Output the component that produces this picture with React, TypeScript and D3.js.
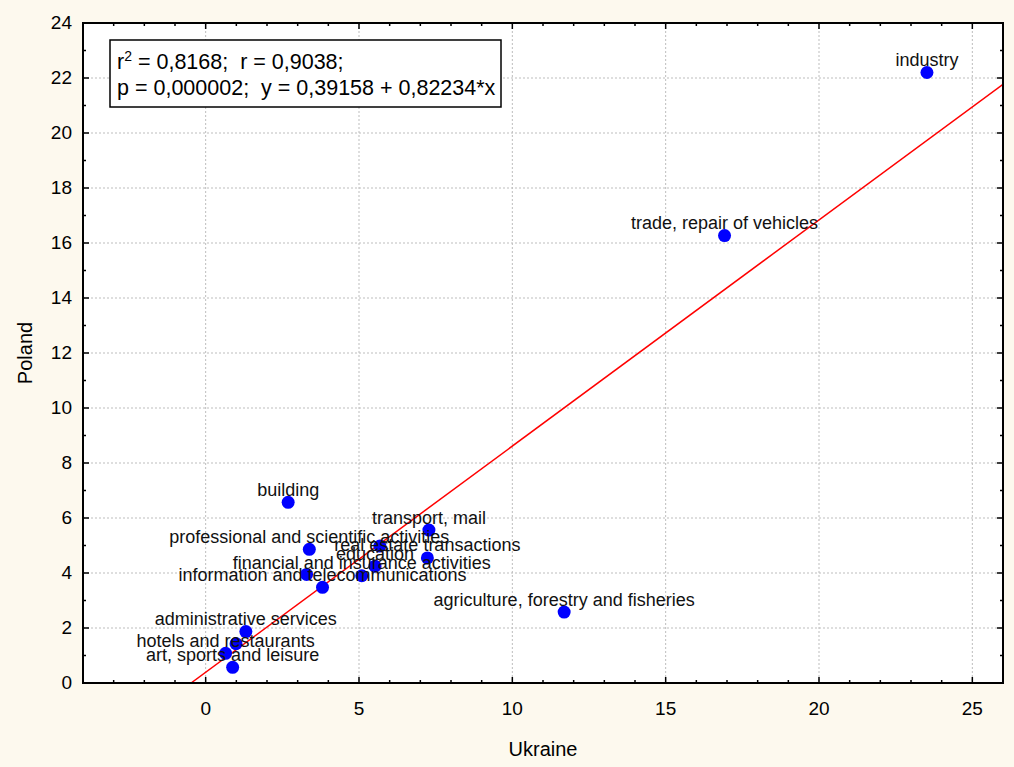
import React from "react";
import * as d3 from "d3";

const categories: string[] = [
  "industry",
  "trade, repair of vehicles",
  "building",
  "transport, mail",
  "professional and scientific activities",
  "",
  "real estate transactions",
  "education",
  "financial and insurance activities",
  "",
  "information and telecommunications",
  "agriculture, forestry and fisheries",
  "administrative services",
  "",
  "hotels and restaurants",
  "art, sports and leisure",
];
const ukraine: number[] = [23.52, 16.92, 2.69, 7.28, 3.38, 5.68, 7.23, 5.52, 5.09, 3.29, 3.81, 11.69, 1.31, 0.99, 0.65, 0.88];
const poland: number[] = [22.2, 16.27, 6.57, 5.56, 4.86, 4.98, 4.55, 4.25, 3.9, 3.95, 3.48, 2.58, 1.87, 1.43, 1.08, 0.57];

const xTicks: number[] = [0, 5, 10, 15, 20, 25];
const yTicks: number[] = [0, 2, 4, 6, 8, 10, 12, 14, 16, 18, 20, 22, 24];
const xDomain: [number, number] = [-4, 26];
const yDomain: [number, number] = [0, 24];
const intercept = 0.39158;
const slope = 0.82234;
const statsLine1a = "r";
const statsLine1b = " = 0,8168;  r = 0,9038;";
const statsLine2 = "p = 0,000002;  y = 0,39158 + 0,82234*x";

const W = 1014;
const H = 767;
const L = 83, R = 1003, T = 23, B = 683;
const FONT = "'Liberation Sans', Arial, sans-serif";

export default function App() {
  const x = d3.scaleLinear().domain(xDomain).range([L, R]);
  const y = d3.scaleLinear().domain(yDomain).range([B, T]);

  const xMinor = d3.range(xDomain[0], xDomain[1] + 0.001, 1);
  const yMinor = d3.range(yDomain[0], yDomain[1] + 0.001, 1);

  const x0 = -intercept / slope;
  const x1 = xDomain[1];
  const line = d3.line<[number, number]>().x((d) => x(d[0])).y((d) => y(d[1]));
  const regPath = line([
    [x0, intercept + slope * x0],
    [x1, intercept + slope * x1],
  ]) as string;

  return (
    <svg
      width={W}
      height={H}
      style={{ position: "absolute", left: 0, top: 0 }}
      fontFamily={FONT}
    >
      <defs>
        <clipPath id="plotclip">
          <rect x={L} y={T} width={R - L} height={B - T} />
        </clipPath>
      </defs>
      <rect x={0} y={0} width={W} height={H} fill="#fdf9ee" />
      <rect x={L} y={T} width={R - L} height={B - T} fill="#ffffff" />

      {/* grid */}
      {xTicks.map((t) => (
        <line key={"gx" + t} x1={x(t)} x2={x(t)} y1={T} y2={B} stroke="#bdbdbd" strokeDasharray="2,2" strokeWidth={1} />
      ))}
      {yTicks.map((t) => (
        <line key={"gy" + t} x1={L} x2={R} y1={y(t)} y2={y(t)} stroke="#bdbdbd" strokeDasharray="2,2" strokeWidth={1} />
      ))}

      {/* ticks */}
      {xMinor.map((t) => {
        const major = xTicks.includes(t);
        const len = major ? 6 : 3;
        return (
          <g key={"tx" + t}>
            <line x1={x(t)} x2={x(t)} y1={B} y2={B - len} stroke="#000" strokeWidth={1.5} />
            <line x1={x(t)} x2={x(t)} y1={T} y2={T + len} stroke="#000" strokeWidth={1.5} />
          </g>
        );
      })}
      {yMinor.map((t) => {
        const major = yTicks.includes(t);
        const len = major ? 6 : 3;
        return (
          <g key={"ty" + t}>
            <line x1={L} x2={L + len} y1={y(t)} y2={y(t)} stroke="#000" strokeWidth={1.5} />
            <line x1={R} x2={R - len} y1={y(t)} y2={y(t)} stroke="#000" strokeWidth={1.5} />
          </g>
        );
      })}

      {/* regression line */}
      <path d={regPath} stroke="#ff0000" strokeWidth={1.5} fill="none" clipPath="url(#plotclip)" />

      {/* points */}
      {ukraine.map((u, i) => (
        <circle key={"p" + i} cx={x(u)} cy={y(poland[i])} r={6.5} fill="#0000ff" />
      ))}
      {/* labels */}
      {ukraine.map((u, i) =>
        categories[i] ? (
          <text key={"l" + i} x={x(u)} y={y(poland[i]) - 6.5} textAnchor="middle" fontSize={18} fill="#111">
            {categories[i]}
          </text>
        ) : null
      )}

      {/* frame */}
      <rect x={L} y={T} width={R - L} height={B - T} fill="none" stroke="#000" strokeWidth={2} />

      {/* tick labels */}
      {xTicks.map((t) => (
        <text key={"xl" + t} x={x(t)} y={715} textAnchor="middle" fontSize={19} fill="#000">
          {t}
        </text>
      ))}
      {yTicks.map((t) => (
        <text key={"yl" + t} x={72} y={y(t) + 6} textAnchor="end" fontSize={19} fill="#000">
          {t}
        </text>
      ))}

      {/* axis titles */}
      <text x={(L + R) / 2} y={756} textAnchor="middle" fontSize={20} fill="#000">
        Ukraine
      </text>
      <text transform={`translate(32,${(T + B) / 2}) rotate(-90)`} textAnchor="middle" fontSize={20} fill="#000">
        Poland
      </text>

      {/* stats box */}
      <rect x={110} y={40} width={391} height={67} fill="#ffffff" stroke="#000" strokeWidth={1.5} />
      <text x={117} y={69} fontSize={21.5} fill="#000" style={{ whiteSpace: "pre" }}>
        {statsLine1a}
        <tspan fontSize={14} dy={-8}>2</tspan>
        <tspan dy={8}>{statsLine1b}</tspan>
      </text>
      <text x={117} y={95} fontSize={21.5} fill="#000" style={{ whiteSpace: "pre" }}>
        {statsLine2}
      </text>
    </svg>
  );
}
